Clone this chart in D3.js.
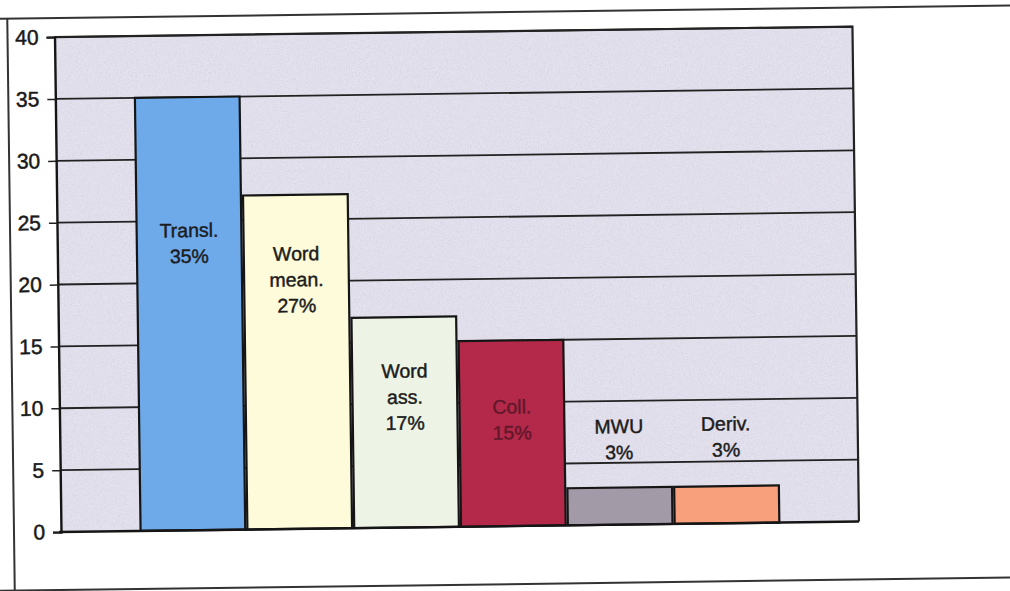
<!DOCTYPE html>
<html>
<head>
<meta charset="utf-8">
<script src="https://cdn.jsdelivr.net/npm/d3@7/dist/d3.min.js"></script>
<style>
  html, body { margin: 0; padding: 0; background: #fff; }
  svg { display: block; }
  text { font-family: "Liberation Sans", Arial, sans-serif; }
</style>
</head>
<body>
<svg id="chart" width="1010" height="591"></svg>
<script>
// Exercise types and their share of all items
const categories = ["Transl.", "Word mean.", "Word ass.", "Coll.", "MWU", "Deriv."];
const values = [35, 27, 17, 15, 3, 3];
const labelLines = [
  ["Transl.", "35%"],
  ["Word", "mean.", "27%"],
  ["Word", "ass.", "17%"],
  ["Coll.", "15%"],
  ["MWU", "3%"],
  ["Deriv.", "3%"]
];
const yTicks = [0, 5, 10, 15, 20, 25, 30, 35, 40];

// styling
const barColors = ["#6eaaea", "#fdfbd9", "#eef4e5", "#b4294a", "#a39aa8", "#f8a07c"];
const labelColors = ["#1c1c1c", "#1c1c1c", "#1c1c1c", "#62182a", "#1c1c1c", "#1c1c1c"];
// where the first line of each label sits, in axis units
const labelAnchor = [23.7, 21.7, 12.1, 9.1, 7.4, 7.5];

const svg = d3.select("#chart");

const plot = { left: 61, right: 859, top: 37, bottom: 532 };

// the whole sheet sits at a slight tilt
const g = svg.append("g").attr("transform", `rotate(-0.75, ${plot.left}, ${plot.bottom})`);

// paper grain for the plot background
const defs = svg.append("defs");
const grain = defs.append("filter").attr("id", "grain")
  .attr("x", 0).attr("y", 0).attr("width", 1).attr("height", 1);
grain.append("feTurbulence").attr("type", "fractalNoise")
  .attr("baseFrequency", 0.9).attr("numOctaves", 2).attr("seed", 4).attr("result", "noise");
grain.append("feColorMatrix").attr("in", "noise").attr("type", "matrix")
  .attr("values", "0 0 0 0 0.45  0 0 0 0 0.42  0 0 0 0 0.5  0 0 0 -1.6 1.0")
  .attr("result", "tint");
grain.append("feComposite").attr("in", "tint").attr("in2", "SourceGraphic").attr("operator", "in");

// outer frame of the sheet
g.append("line").attr("x1", -20).attr("x2", 1040).attr("y1", 18).attr("y2", 18)
  .attr("stroke", "#333").attr("stroke-width", 2);
g.append("line").attr("x1", 14).attr("x2", 14).attr("y1", 18).attr("y2", 620)
  .attr("stroke", "#333").attr("stroke-width", 2);
g.append("line").attr("x1", -20).attr("x2", 1040).attr("y1", 590).attr("y2", 590)
  .attr("stroke", "#333").attr("stroke-width", 2);

const x = d3.scaleBand()
  .domain(categories)
  .range([plot.left, plot.right])
  .paddingInner(0.02)
  .paddingOuter(0.745);

const y = d3.scaleLinear()
  .domain([0, 40])
  .range([plot.bottom, plot.top]);

// plot background
g.append("rect")
  .attr("x", plot.left).attr("y", plot.top)
  .attr("width", plot.right - plot.left).attr("height", plot.bottom - plot.top)
  .attr("fill", "#e5e3ef");
g.append("rect")
  .attr("x", plot.left).attr("y", plot.top)
  .attr("width", plot.right - plot.left).attr("height", plot.bottom - plot.top)
  .attr("fill", "#e5e3ef")
  .attr("filter", "url(#grain)")
  .attr("opacity", 0.4);

// horizontal gridlines
g.append("g")
  .selectAll("line")
  .data(yTicks.filter(t => t > 0))
  .join("line")
  .attr("x1", plot.left).attr("x2", plot.right)
  .attr("y1", d => y(d)).attr("y2", d => y(d))
  .attr("stroke", "#222").attr("stroke-width", 1.8);

// plot border (top and right)
g.append("path")
  .attr("d", `M${plot.left},${plot.top}H${plot.right}V${plot.bottom}`)
  .attr("fill", "none").attr("stroke", "#222").attr("stroke-width", 2.2);

// bars
g.append("g")
  .selectAll("rect")
  .data(values)
  .join("rect")
  .attr("x", (d, i) => x(categories[i]))
  .attr("y", d => y(d))
  .attr("width", x.bandwidth())
  .attr("height", d => y(0) - y(d))
  .attr("fill", (d, i) => barColors[i])
  .attr("stroke", "#151515")
  .attr("stroke-width", 2.2);

// y axis
const yAxis = d3.axisLeft(y).tickValues(yTicks).tickSize(8).tickPadding(8).tickFormat(d3.format("d"));
const ya = g.append("g").attr("transform", `translate(${plot.left},0)`).call(yAxis);
ya.select(".domain").attr("stroke", "#151515").attr("stroke-width", 2.4);
ya.selectAll(".tick line").attr("stroke", "#222").attr("stroke-width", 1.5);
ya.selectAll(".tick text")
  .attr("fill", "#1a1a1a")
  .attr("stroke", "#1a1a1a")
  .attr("stroke-width", 0.5)
  .style("font-size", "21px")
  .style("font-family", '"Liberation Sans", Arial, sans-serif');

// x axis baseline
g.append("line")
  .attr("x1", plot.left - 2).attr("x2", plot.right)
  .attr("y1", y(0)).attr("y2", y(0))
  .attr("stroke", "#151515").attr("stroke-width", 2.4);

// bar labels
const lbl = g.append("g").attr("text-anchor", "middle");
labelLines.forEach((lines, i) => {
  const cx = x(categories[i]) + x.bandwidth() / 2;
  const t = lbl.append("text")
    .attr("x", cx)
    .attr("y", y(labelAnchor[i]))
    .attr("fill", labelColors[i])
    .attr("stroke", labelColors[i])
    .attr("stroke-width", 0.45)
    .style("font-size", "19.5px");
  lines.forEach((s, k) => {
    t.append("tspan").attr("x", cx).attr("dy", k === 0 ? 0 : 26).text(s);
  });
});
</script>
</body>
</html>
